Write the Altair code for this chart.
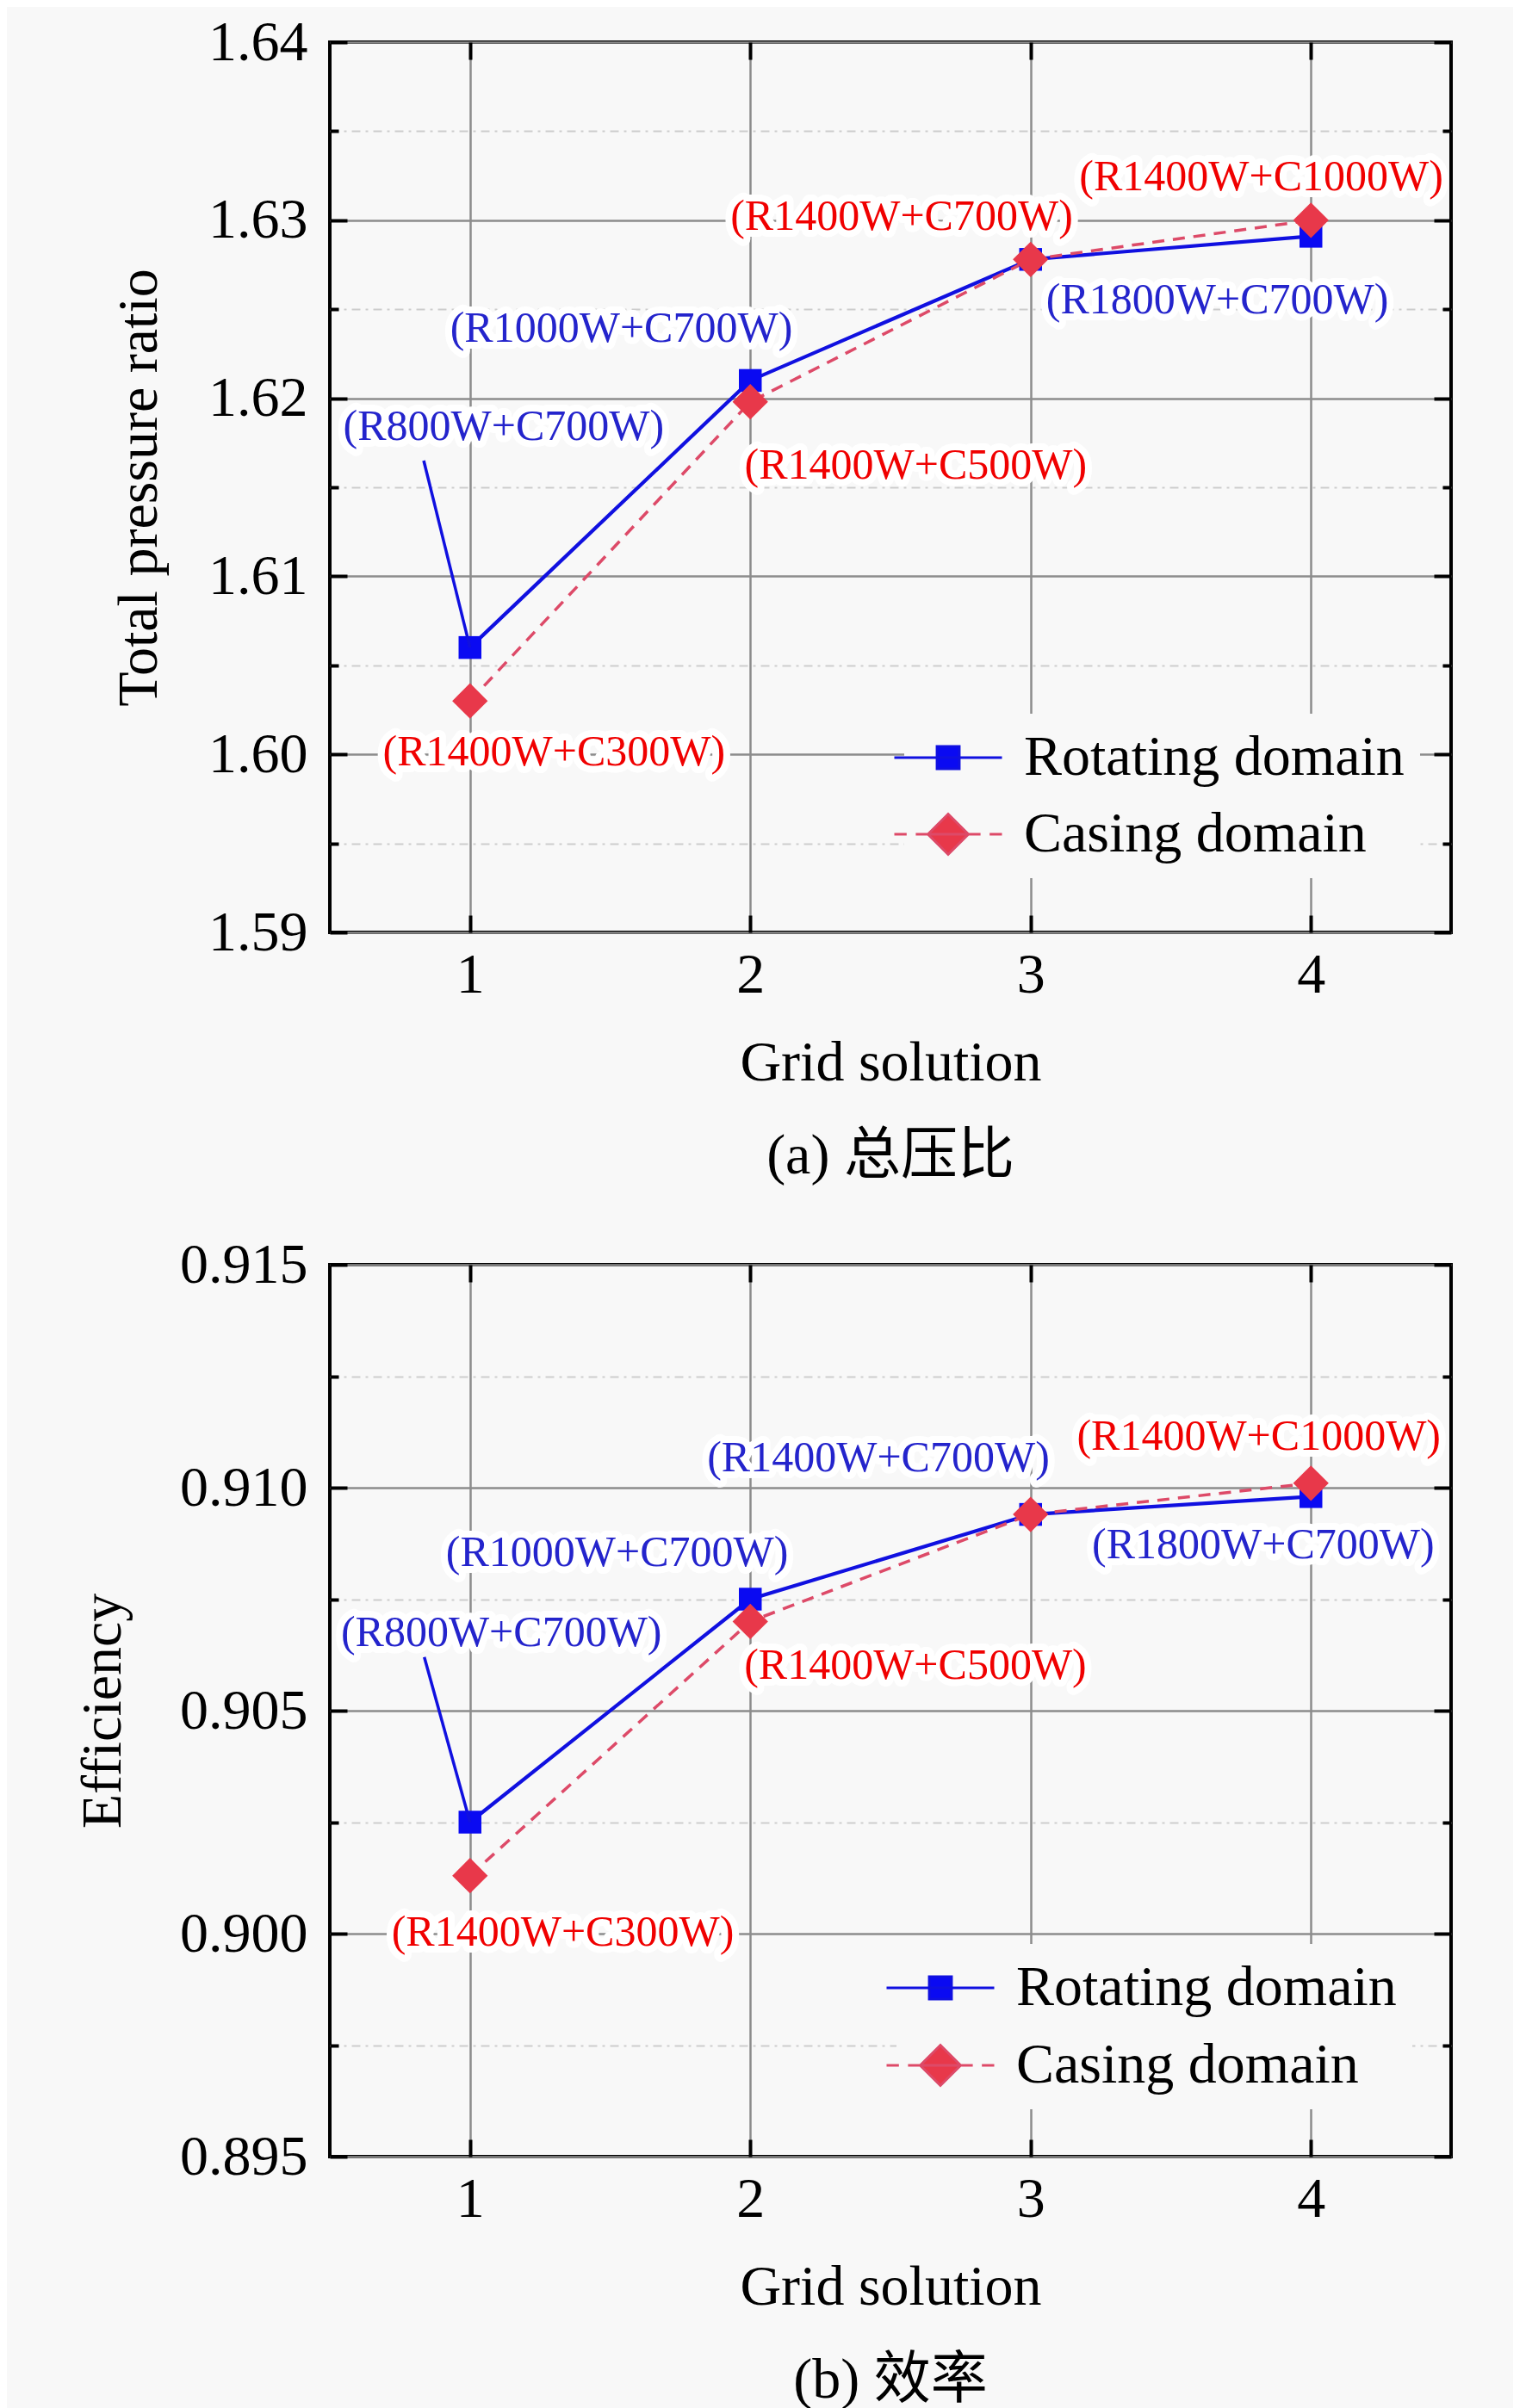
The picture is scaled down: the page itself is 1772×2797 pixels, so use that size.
import altair as alt
import pandas as pd

# ---------------- data ----------------
grid = [1, 2, 3, 4]
series_names = ["Rotating domain", "Casing domain"]

pr_rotating = [1.6060, 1.6210, 1.6278, 1.6291]
pr_casing = [1.6030, 1.6198, 1.6278, 1.6300]
eff_rotating = [0.9025, 0.9075, 0.9094, 0.9098]
eff_casing = [0.9013, 0.9070, 0.9094, 0.9101]

pr_label_text = ["(R800W+C700W)", "(R1000W+C700W)", "(R1400W+C700W)", "(R1800W+C700W)",
                 "(R1400W+C300W)", "(R1400W+C500W)", "(R1400W+C1000W)"]
pr_label_series = ["Rotating domain", "Rotating domain", "Casing domain", "Rotating domain",
                   "Casing domain", "Casing domain", "Casing domain"]
pr_label_x = [1.12, 1.54, 2.54, 3.666, 1.30, 2.59, 3.823]
pr_label_y = [1.6184, 1.6239, 1.6302, 1.6255, 1.6001, 1.6162, 1.6324]
pr_leader_start = [0.835, 1.6165]

eff_label_text = ["(R800W+C700W)", "(R1000W+C700W)", "(R1400W+C700W)", "(R1800W+C700W)",
                  "(R1400W+C300W)", "(R1400W+C500W)", "(R1400W+C1000W)"]
eff_label_series = ["Rotating domain", "Rotating domain", "Rotating domain", "Rotating domain",
                    "Casing domain", "Casing domain", "Casing domain"]
eff_label_x = [1.112, 1.525, 2.457, 3.83, 1.331, 2.589, 3.814]
eff_label_y = [0.90674, 0.90853, 0.91066, 0.90871, 0.90002, 0.9060, 0.91114]
eff_leader_start = [0.837, 0.9062]

pr_ticks = [1.59, 1.60, 1.61, 1.62, 1.63, 1.64]
pr_minor = [1.595, 1.605, 1.615, 1.625, 1.635]
eff_ticks = [0.895, 0.900, 0.905, 0.910, 0.915]
eff_minor = [0.8975, 0.9025, 0.9075, 0.9125]

# ---------------- style ----------------
SERIF = "Liberation Serif"
CAPFONT = "Liberation Serif, Noto Sans CJK SC"
BG = "#f8f8f8"
W = 1302
FS = 66

color_scale = alt.Scale(domain=series_names, range=["#0a0af2", "#e8384a"])
stroke_scale = alt.Scale(domain=series_names, range=["#1010e0", "#dd4a68"])
# text colours: own scale (domain listed in another order so it stays apart from the legend)
text_scale = alt.Scale(domain=series_names[::-1], range=["#f00000", "#2424cc"])
ROT_PATH = "M-2.66,0H2.66M-0.55,-0.55H0.55V0.55H-0.55Z"
CAS_PATH = ("M-2.66,0H-2.05M-1.6,0H1.6M2.05,0H2.66"
            "M-1,0L0,-1L1,0L0,1Z")
shape_scale = alt.Scale(domain=series_names, range=[ROT_PATH, CAS_PATH])


def panel(rot, cas, ltext, lser, lx, ly, lead, ydom, yticks, yminor, yfmt,
          ytitle, ytitle_pad, caption, H, legx, legy, rowpad):
    pts = pd.DataFrame({
        "grid": grid + grid,
        "value": rot + cas,
        "series": [series_names[0]] * len(grid) + [series_names[1]] * len(grid),
    })
    labels = pd.DataFrame({"label": ltext, "series": lser, "lx": lx, "ly": ly})
    leader = pd.DataFrame({"x": [lead[0]], "y": [lead[1]], "x2": [grid[0]], "y2": [rot[0]]})

    xs = alt.Scale(domain=[0.5, 4.5], nice=False, zero=False)
    ys = alt.Scale(domain=ydom, nice=False, zero=False)

    base = alt.Chart(pts)

    def axis_layer(xaxis, yaxis):
        return base.mark_point(opacity=0).encode(
            x=alt.X("grid:Q", scale=xs, axis=xaxis),
            y=alt.Y("value:Q", scale=ys, axis=yaxis),
        )

    plain = dict(labels=False, ticks=False, domain=False, title=None)

    main_axes = axis_layer(
        alt.Axis(orient="bottom", values=grid, format="d", title="Grid solution",
                 ticks=False, domain=False, grid=False, labelPadding=17,
                 titlePadding=37, labelFlush=False, labelOverlap=False),
        alt.Axis(orient="left", values=yticks, format=yfmt, title=ytitle,
                 ticks=False, domain=False, grid=False, labelPadding=26,
                 titlePadding=ytitle_pad, labelFlush=False, labelOverlap=False),
    )
    major_grid = axis_layer(
        alt.Axis(orient="bottom", values=grid, grid=True, gridColor="#8c8c8c",
                 gridWidth=2.5, **plain),
        alt.Axis(orient="left", values=yticks, grid=True, gridColor="#8c8c8c",
                 gridWidth=2.5, **plain),
    )
    minor_and_xticks = axis_layer(
        alt.Axis(orient="bottom", values=grid, grid=True, gridColor="black",
                 gridWidth=4, gridDash=[20, H - 40, 20, 5000], zindex=1, **plain),
        alt.Axis(orient="left", values=yminor, grid=True, gridColor="#cdcdcd",
                 gridWidth=2, gridDash=[10, 6, 3, 6], **plain),
    )
    yticks_major = axis_layer(
        None,
        alt.Axis(orient="left", values=yticks, grid=True, gridColor="black",
                 gridWidth=4, gridDash=[20, W - 40, 20, 5000], zindex=1, **plain),
    )
    yticks_minor = axis_layer(
        None,
        alt.Axis(orient="left", values=yminor, grid=True, gridColor="black",
                 gridWidth=4, gridDash=[10, W - 20, 10, 5000], zindex=1, **plain),
    )

    X = alt.X("grid:Q", scale=xs, axis=None)
    Y = alt.Y("value:Q", scale=ys, axis=None)

    leg = alt.Legend(
        title=None, orient="none", legendX=legx, legendY=legy, padding=18,
        fillColor=BG, labelFont=SERIF, labelFontSize=FS, labelColor="black",
        labelOffset=55, rowPadding=rowpad, symbolSize=2209, symbolStrokeWidth=3,
        symbolOpacity=1, labelLimit=0,
    )

    # legend-only layer (no rows drawn), first so its legend settings lead
    legend_layer = base.transform_filter(alt.datum.series == "none").mark_point(
        filled=True, opacity=1, strokeWidth=3
    ).encode(
        x=X, y=Y,
        color=alt.Color("series:N", scale=color_scale, legend=leg),
        stroke=alt.Stroke("series:N", scale=stroke_scale, legend=leg),
        shape=alt.Shape("series:N", scale=shape_scale, legend=leg),
    )

    halo = alt.Chart(labels).mark_text(
        font=SERIF, fontSize=50, stroke="white", strokeWidth=16, fill="white",
        strokeJoin="round"
    ).encode(
        x=alt.X("lx:Q", scale=xs, axis=None),
        y=alt.Y("ly:Q", scale=ys, axis=None),
        text="label:N",
    )

    line_rot = base.transform_filter(alt.datum.series == series_names[0]).mark_line(
        strokeWidth=4.2
    ).encode(x=X, y=Y, stroke=alt.Stroke("series:N", scale=stroke_scale, legend=leg))

    line_cas = base.transform_filter(alt.datum.series == series_names[1]).mark_line(
        strokeWidth=3.5, strokeDash=[14, 10]
    ).encode(x=X, y=Y, stroke=alt.Stroke("series:N", scale=stroke_scale, legend=leg))

    squares = base.transform_filter(alt.datum.series == series_names[0]).mark_point(
        shape="square", filled=True, size=700, opacity=1, strokeWidth=0
    ).encode(x=X, y=Y, color=alt.Color("series:N", scale=color_scale, legend=leg))

    diamonds = base.transform_filter(alt.datum.series == series_names[1]).mark_point(
        shape="diamond", filled=True, size=1700, opacity=1, strokeWidth=0
    ).encode(x=X, y=Y, color=alt.Color("series:N", scale=color_scale, legend=leg))

    leader_rule = alt.Chart(leader).mark_rule(strokeWidth=3.5, color="#1010e0").encode(
        x=alt.X("x:Q", scale=xs, axis=None),
        y=alt.Y("y:Q", scale=ys, axis=None),
        x2="x2:Q", y2="y2:Q",
    )

    text = alt.Chart(labels).mark_text(font=SERIF, fontSize=50).encode(
        x=alt.X("lx:Q", scale=xs, axis=None),
        y=alt.Y("ly:Q", scale=ys, axis=None),
        text="label:N",
        fill=alt.Fill("series:N", scale=text_scale, legend=None),
    )

    layered = alt.layer(
        legend_layer, main_axes, major_grid, minor_and_xticks, yticks_major, yticks_minor,
        halo, line_rot, line_cas, squares, diamonds, leader_rule, text,
    ).resolve_axis(x="independent", y="independent").properties(
        width=W, height=H,
        title=alt.TitleParams(text=caption, orient="bottom", anchor="middle",
                              font=CAPFONT, fontSize=FS, fontWeight="normal",
                              color="black", offset=44),
    )
    return layered


top = panel(pr_rotating, pr_casing, pr_label_text, pr_label_series, pr_label_x,
            pr_label_y, pr_leader_start, [1.59, 1.64], pr_ticks, pr_minor, ".2f",
            "Total pressure ratio", 46, "(a) 总压比", 1034, 667, 780, 23)
bottom = panel(eff_rotating, eff_casing, eff_label_text, eff_label_series, eff_label_x,
               eff_label_y, eff_leader_start, [0.895, 0.915], eff_ticks, eff_minor, ".3f",
               "Efficiency", 55, "(b) 效率", 1036, 658, 789, 24)

chart = alt.vconcat(top, bottom, spacing=386, bounds="flush").resolve_scale(
    color="independent", stroke="independent", shape="independent", fill="independent"
).resolve_legend(
    color="independent", stroke="independent", shape="independent", fill="independent"
).configure_view(
    stroke="black", strokeWidth=4
).configure_axis(
    labelFont=SERIF, labelFontSize=FS, labelColor="black",
    titleFont=SERIF, titleFontSize=FS, titleFontWeight="normal", titleColor="black",
).properties(
    background=BG,
    padding={"left": 76, "top": 6, "right": 70, "bottom": 8},
)

chart.save("out.html", embed_options={"renderer": "svg", "actions": False})
